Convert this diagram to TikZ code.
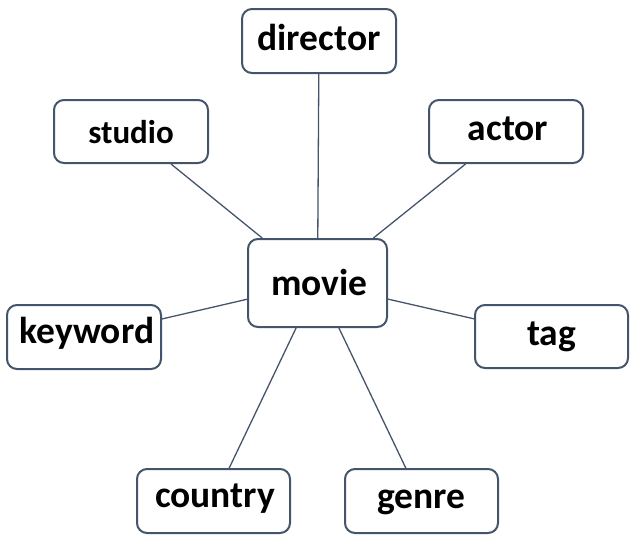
\documentclass[tikz,border=0pt]{standalone}
\usepackage{fontspec}
\setmainfont{Carlito}
\definecolor{edgec}{HTML}{44546A}
\begin{document}
\begin{tikzpicture}[x=1pt,y=-1pt,
  box/.style={draw=edgec, line width=2pt, rounded corners=10pt, fill=white,
    minimum width=154pt, minimum height=64pt, inner sep=0pt, text depth=8pt,
    font=\fontsize{37.5}{40}\selectfont\bfseries},
  link/.style={draw=edgec, line width=1.3pt}]
\useasboundingbox (0,0) rectangle (640,542);
\node[box, text height=26pt] (director) at (319,41) {director};
\node[box, text height=31pt, minimum height=63pt, font=\fontsize{33}{36}\selectfont\bfseries] (studio) at (131,131.5) {studio};
\node[box, text height=25pt, minimum height=63pt] (actor) at (506,131.5) {\hspace{4pt}actor};
\node[box, text height=32pt, minimum width=139pt, minimum height=88pt] (movie) at (317.5,283) {\hspace{4pt}movie};
\node[box, text height=20pt] (keyword) at (84,337) {\hspace{6pt}keyword};
\node[box, text height=25pt, minimum width=153pt, minimum height=63pt] (tag) at (551.5,336.5) {tag};
\node[box, text height=20pt, minimum width=153pt] (country) at (213.5,501) {\hspace{3pt}country};
\node[box, text height=22pt, minimum width=153pt] (genre) at (421.5,501) {genre};
\draw[link] (director) -- (movie);
\draw[link] (studio) -- (movie);
\draw[link] (actor) -- (movie);
\draw[link] (keyword) -- (movie);
\draw[link] (tag) -- (movie);
\draw[link] (country) -- (movie);
\draw[link] (genre) -- (movie);
\end{tikzpicture}
\end{document}
